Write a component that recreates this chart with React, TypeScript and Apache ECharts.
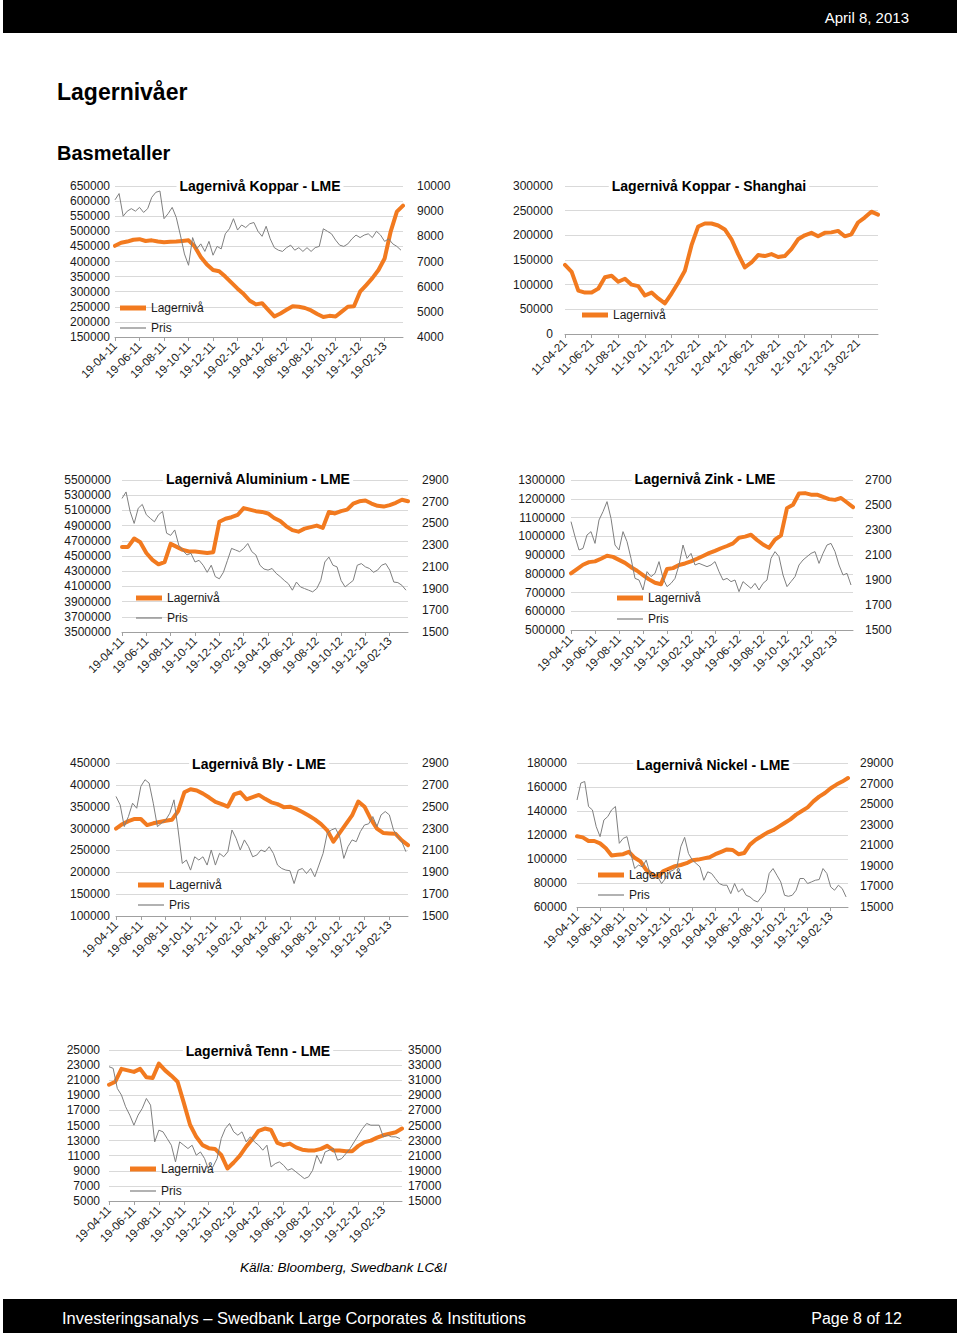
import React, { useEffect, useRef } from "react";
import * as echarts from "echarts";

const FONT = "'Liberation Sans', Arial, Helvetica, sans-serif";
const ORANGE = "#f27a1f";
const GREY = "#7f7f7f";
const TEXT = "#1a1a1a";

// x-axis tick labels
const lmeTicks = ["19-04-11", "19-06-11", "19-08-11", "19-10-11", "19-12-11", "19-02-12", "19-04-12", "19-06-12", "19-08-12", "19-10-12", "19-12-12", "19-02-13"];
const shTicks = ["11-04-21", "11-06-21", "11-08-21", "11-10-21", "11-12-21", "12-02-21", "12-04-21", "12-06-21", "12-08-21", "12-10-21", "12-12-21", "13-02-21"];

// sampling steps (months between points)
const LAGER_STEP = 0.5;
const PRIS_STEP = 1 / 3;
const X_MAX = 23.5;

// Koppar LME
const kopparLager = [452000, 462000, 466000, 472000, 474000, 468000, 470000, 466000, 464000, 465000, 466000, 468000, 470000, 450000, 415000, 390000, 372000, 368000, 350000, 330000, 310000, 292000, 270000, 258000, 262000, 240000, 218000, 228000, 240000, 252000, 250000, 246000, 238000, 226000, 216000, 220000, 218000, 234000, 250000, 252000, 300000, 322000, 345000, 372000, 410000, 500000, 565000, 585000];
const kopparPris = [9450, 9700, 8800, 9000, 9100, 9000, 9150, 8950, 9100, 9550, 9750, 9800, 8700, 8900, 9150, 8750, 8050, 7300, 6850, 7950, 7500, 7700, 7400, 7800, 7250, 7600, 7500, 8100, 8300, 8700, 8250, 8450, 8350, 8500, 8550, 8200, 8000, 8400, 7900, 7550, 7450, 7400, 7550, 7650, 7450, 7550, 7400, 7550, 7400, 7550, 7600, 8300, 8200, 8100, 7850, 7650, 7600, 7700, 7900, 8050, 7950, 8050, 8100, 7950, 8200, 8050, 7800, 7900, 7700, 7600, 7450];

// Koppar Shanghai
const shanghaiLager = [140000, 126000, 88000, 84000, 84000, 92000, 115000, 118000, 106000, 112000, 100000, 97000, 78000, 84000, 72000, 62000, 82000, 104000, 128000, 180000, 218000, 224000, 224000, 220000, 212000, 192000, 162000, 135000, 145000, 160000, 158000, 162000, 156000, 158000, 172000, 192000, 200000, 205000, 198000, 205000, 206000, 209000, 198000, 202000, 226000, 236000, 248000, 242000];

// Aluminium LME
const aluLager = [4620000, 4620000, 4730000, 4680000, 4540000, 4450000, 4390000, 4420000, 4660000, 4620000, 4580000, 4560000, 4560000, 4550000, 4540000, 4550000, 4950000, 4990000, 5010000, 5040000, 5130000, 5110000, 5090000, 5080000, 5060000, 5000000, 4960000, 4890000, 4840000, 4820000, 4860000, 4880000, 4900000, 4870000, 5080000, 5060000, 5090000, 5110000, 5190000, 5220000, 5230000, 5190000, 5160000, 5150000, 5170000, 5200000, 5240000, 5220000];
const aluPris = [2730, 2790, 2610, 2500, 2640, 2675, 2580, 2546, 2515, 2580, 2610, 2410, 2390, 2440, 2300, 2250, 2210, 2225, 2145, 2160, 2115, 2050, 2115, 2010, 1990, 2050, 2160, 2270, 2255, 2240, 2270, 2315, 2240, 2210, 2115, 2080, 2070, 2085, 2040, 2010, 1975, 1945, 1885, 1960, 1915, 1900, 1885, 1870, 1900, 1975, 2145, 2190, 2115, 2100, 1975, 1915, 1945, 1975, 2115, 2130, 2100, 2085, 2050, 2070, 2115, 2130, 2070, 1960, 1955, 1930, 1885];

// Zink LME
const zinkLager = [802000, 825000, 848000, 862000, 866000, 880000, 896000, 890000, 874000, 858000, 835000, 816000, 793000, 770000, 752000, 744000, 825000, 830000, 847000, 855000, 866000, 880000, 895000, 910000, 922000, 936000, 948000, 962000, 992000, 998000, 1008000, 980000, 956000, 938000, 982000, 1005000, 1150000, 1168000, 1228000, 1230000, 1222000, 1222000, 1210000, 1198000, 1194000, 1204000, 1180000, 1155000];
const zinkPris = [2367, 2247, 2140, 2153, 2260, 2287, 2193, 2380, 2447, 2527, 2393, 2180, 2140, 2287, 2207, 2073, 1913, 1900, 1820, 1967, 1927, 1953, 2047, 1913, 1847, 1873, 1913, 2020, 2180, 2073, 2113, 2020, 2033, 2020, 2007, 2020, 2047, 1967, 1900, 1913, 1887, 1900, 1807, 1887, 1860, 1833, 1873, 1820, 1873, 1900, 2073, 2127, 2087, 1940, 1847, 1887, 1927, 2020, 2060, 2087, 2113, 2127, 2033, 2113, 2180, 2193, 2127, 2020, 1940, 1953, 1860];

// Bly LME
const blyLager = [300000, 310000, 317000, 322000, 322000, 308000, 312000, 315000, 318000, 320000, 340000, 383000, 390000, 387000, 380000, 371000, 361000, 356000, 350000, 378000, 383000, 367000, 372000, 377000, 368000, 360000, 356000, 349000, 350000, 345000, 338000, 330000, 321000, 310000, 296000, 270000, 290000, 310000, 330000, 362000, 350000, 322000, 300000, 290000, 289000, 288000, 273000, 262000];
const blyPris = [2594, 2517, 2318, 2410, 2532, 2486, 2686, 2747, 2716, 2532, 2318, 2349, 2379, 2441, 2563, 2287, 1981, 2012, 1920, 2042, 2012, 2042, 1966, 2104, 1966, 2073, 2042, 2088, 2287, 2211, 2104, 2196, 2134, 2042, 2058, 2104, 2088, 2134, 2073, 1966, 1935, 1920, 1914, 1797, 1920, 1935, 1889, 1935, 1859, 1966, 2073, 2257, 2287, 2303, 2226, 2027, 2134, 2196, 2180, 2272, 2333, 2343, 2410, 2318, 2425, 2456, 2425, 2287, 2226, 2180, 2088];

// Nickel LME
const nickelLager = [119000, 118000, 115000, 115000, 113000, 109000, 103000, 103500, 104000, 106000, 101000, 98000, 91000, 87000, 85000, 90000, 92000, 94000, 95000, 96500, 99000, 99500, 100500, 101500, 104000, 106000, 108000, 107500, 104000, 105000, 112000, 116000, 119000, 122000, 124000, 127000, 130000, 133000, 137000, 140000, 143000, 148000, 152000, 155000, 159000, 162000, 164500, 167500];
const nickelPris = [25400, 27050, 27200, 24770, 24440, 22810, 21840, 23460, 23790, 24440, 24770, 21190, 21670, 21840, 20210, 18740, 19070, 18900, 19560, 18260, 17770, 17930, 17280, 17770, 18420, 18580, 18900, 20860, 21770, 20210, 19560, 19230, 18900, 17600, 18420, 18260, 17770, 17280, 17120, 17120, 16300, 17280, 16460, 16790, 16140, 15980, 15650, 15490, 15980, 16460, 18260, 18740, 18090, 17440, 16140, 16040, 16140, 16630, 17770, 17770, 17280, 17440, 17600, 17670, 18740, 18260, 16950, 16630, 17120, 16790, 15980];

// Tenn LME
const tennLager = [20400, 20800, 22500, 22300, 22100, 22500, 21400, 21300, 23200, 22300, 21600, 20800, 18000, 15100, 13500, 12400, 12000, 11900, 11100, 9300, 10100, 11000, 12200, 13200, 14300, 14600, 14400, 12700, 12400, 12600, 12100, 11800, 11700, 11700, 11900, 12300, 11700, 11700, 11600, 11600, 12300, 12800, 13000, 13400, 13700, 13900, 14100, 14600];
const tennPris = [32790, 32570, 29910, 29030, 27480, 26370, 25040, 26370, 27260, 28580, 27700, 22830, 24380, 24160, 23270, 22390, 20180, 22830, 22390, 21950, 22390, 21060, 21500, 20620, 19070, 19510, 20620, 23270, 24600, 25270, 24160, 23720, 24160, 22830, 23500, 22830, 22390, 21730, 22390, 19510, 19950, 20180, 19730, 19070, 19290, 18850, 18410, 17970, 18190, 19070, 21060, 19950, 21500, 21730, 21950, 20400, 20620, 21280, 21950, 22830, 23720, 24600, 25270, 25040, 25040, 25040, 23500, 23720, 23500, 23500, 23270];

type Axis = { min: number; max: number; interval: number };
type ChartDef = {
  title: string;
  ticks: string[];
  lager: number[];
  pris?: number[];
  grid: { left: number; top: number; width: number; height: number };
  yL: Axis;
  yR?: Axis;
  mL: number;
  mR: number;
  titlePos: [number, number];
  legendPos: number[];
};

const charts: ChartDef[] = [
  {
    title: "Lagernivå Koppar - LME", ticks: lmeTicks, lager: kopparLager, pris: kopparPris,
    grid: { left: 115, top: 186, width: 288, height: 151 },
    yL: { min: 150000, max: 650000, interval: 50000 }, yR: { min: 4000, max: 10000, interval: 1000 },
    mL: 5, mR: 14, titlePos: [257, 187], legendPos: [120, 309, 329],
  },
  {
    title: "Lagernivå Koppar - Shanghai", ticks: shTicks, lager: shanghaiLager,
    grid: { left: 565, top: 186, width: 313, height: 148 },
    yL: { min: 0, max: 300000, interval: 50000 },
    mL: 12, mR: 10, titlePos: [706, 187], legendPos: [582, 316],
  },
  {
    title: "Lagernivå Aluminium - LME", ticks: lmeTicks, lager: aluLager, pris: aluPris,
    grid: { left: 122, top: 480, width: 286, height: 152 },
    yL: { min: 3500000, max: 5500000, interval: 200000 }, yR: { min: 1500, max: 2900, interval: 200 },
    mL: 11, mR: 14, titlePos: [255, 480], legendPos: [136, 599, 619],
  },
  {
    title: "Lagernivå Zink - LME", ticks: lmeTicks, lager: zinkLager, pris: zinkPris,
    grid: { left: 571, top: 480, width: 282, height: 150 },
    yL: { min: 500000, max: 1300000, interval: 100000 }, yR: { min: 1500, max: 2700, interval: 200 },
    mL: 6, mR: 12, titlePos: [702, 480], legendPos: [617, 599, 620],
  },
  {
    title: "Lagernivå Bly - LME", ticks: lmeTicks, lager: blyLager, pris: blyPris,
    grid: { left: 116, top: 763, width: 292, height: 153 },
    yL: { min: 100000, max: 450000, interval: 50000 }, yR: { min: 1500, max: 2900, interval: 200 },
    mL: 6, mR: 14, titlePos: [256, 765], legendPos: [138, 886, 906],
  },
  {
    title: "Lagernivå Nickel - LME", ticks: lmeTicks, lager: nickelLager, pris: nickelPris,
    grid: { left: 577, top: 763, width: 271, height: 144 },
    yL: { min: 60000, max: 180000, interval: 20000 }, yR: { min: 15000, max: 29000, interval: 2000 },
    mL: 10, mR: 12, titlePos: [710, 766], legendPos: [598, 876, 896],
  },
  {
    title: "Lagernivå Tenn - LME", ticks: lmeTicks, lager: tennLager, pris: tennPris,
    grid: { left: 109, top: 1050, width: 293, height: 151 },
    yL: { min: 5000, max: 25000, interval: 2000 }, yR: { min: 15000, max: 35000, interval: 2000 },
    mL: 9, mR: 6, titlePos: [255, 1052], legendPos: [130, 1170, 1192],
  },
];

const plain = (v: number) => String(Math.round(v));

function buildOption() {
  const grid: any[] = [];
  const xAxis: any[] = [];
  const yAxis: any[] = [];
  const series: any[] = [];
  const title: any[] = [];
  const legend: any[] = [];

  charts.forEach((c, gi) => {
    grid.push({ ...c.grid, containLabel: false });
    const ticks = c.ticks;
    xAxis.push({
      type: "value", gridIndex: gi, min: 0, max: X_MAX, interval: 2,
      axisLine: { show: true, lineStyle: { color: "#a0a0a0", width: 1 } },
      axisTick: { show: true, length: 4, lineStyle: { color: "#a0a0a0" } },
      splitLine: { show: false },
      axisLabel: {
        rotate: 45, fontSize: 11.5, color: TEXT, fontFamily: FONT, margin: 7,
        showMaxLabel: false,
        formatter: (v: number) => {
          const k = Math.round(v / 2);
          return Math.abs(v / 2 - k) < 1e-6 && ticks[k] ? ticks[k] : "";
        },
      },
    });
    const yLIndex = yAxis.length;
    yAxis.push({
      type: "value", gridIndex: gi, position: "left", ...c.yL,
      axisLine: { show: false }, axisTick: { show: false },
      splitLine: { show: true, lineStyle: { color: "#d9d9d9", width: 1 } },
      axisLabel: { fontSize: 12, color: TEXT, fontFamily: FONT, margin: c.mL, formatter: plain },
    });
    let yRIndex = -1;
    if (c.yR) {
      yRIndex = yAxis.length;
      yAxis.push({
        type: "value", gridIndex: gi, position: "right", ...c.yR,
        axisLine: { show: false }, axisTick: { show: false },
        splitLine: { show: false },
        axisLabel: { fontSize: 12, color: TEXT, fontFamily: FONT, margin: c.mR, formatter: plain },
      });
    }
    series.push({
      name: "Lagernivå", type: "line", xAxisIndex: gi, yAxisIndex: yLIndex,
      showSymbol: false, symbol: "none",
      lineStyle: { color: ORANGE, width: 4, join: "round", cap: "round" },
      itemStyle: { color: ORANGE },
      data: c.lager.map((v, i) => [i * LAGER_STEP, v]),
      z: 3,
    });
    if (c.pris && yRIndex >= 0) {
      series.push({
        name: "Pris", type: "line", xAxisIndex: gi, yAxisIndex: yRIndex,
        showSymbol: false, symbol: "none",
        lineStyle: { color: GREY, width: 1 },
        itemStyle: { color: GREY },
        data: c.pris.map((v, i) => [i * PRIS_STEP, v]),
        z: 4,
      });
    }
    title.push({
      text: c.title, left: c.titlePos[0], top: c.titlePos[1] - 9, textAlign: "center",
      backgroundColor: "#ffffff", padding: [1, 3],
      textStyle: { fontSize: 14, fontWeight: "bold", color: "#000", fontFamily: FONT },
    });
    legend.push({
      left: c.legendPos[0], top: c.legendPos[1] - 7, padding: 0, selectedMode: false,
      itemWidth: 26, itemHeight: 5, icon: "rect", data: ["Lagernivå"],
      textStyle: { fontSize: 12, color: TEXT, fontFamily: FONT },
    });
    if (c.pris) {
      legend.push({
        left: c.legendPos[0], top: c.legendPos[2] - 7, padding: 0, selectedMode: false,
        itemWidth: 26, itemHeight: 1.2, icon: "rect", data: ["Pris"],
        textStyle: { fontSize: 12, color: TEXT, fontFamily: FONT },
      });
    }
  });

  const txt = (text: string, x: number, y: number, size: number, extra: any = {}) => ({
    type: "text", x, y, silent: true,
    style: {
      text, fontSize: size, fontFamily: FONT, fill: extra.fill || "#000",
      fontWeight: extra.fontWeight || "normal", fontStyle: extra.fontStyle || "normal",
      align: extra.align || "left", textAlign: extra.align || "left",
      verticalAlign: "middle", textVerticalAlign: "middle",
    },
  });

  const graphic: any[] = [
    { type: "rect", shape: { x: 3, y: 0, width: 954, height: 33 }, style: { fill: "#000" }, silent: true },
    { type: "rect", shape: { x: 3, y: 1299, width: 954, height: 34 }, style: { fill: "#000" }, silent: true },
    txt("April 8, 2013", 909, 17, 15, { fill: "#fff", align: "right" }),
    txt("Lagernivåer", 57, 92, 23, { fontWeight: "bold" }),
    txt("Basmetaller", 57, 153, 20, { fontWeight: "bold" }),
    txt("Källa: Bloomberg, Swedbank LC&I", 240, 1267, 13.5, { fontStyle: "italic" }),
    txt("Investeringsanalys – Swedbank Large Corporates & Institutions", 62, 1318, 16.5, { fill: "#fff" }),
    txt("Page 8 of 12", 902, 1318, 16, { fill: "#fff", align: "right" }),
  ];

  return {
    animation: false,
    backgroundColor: "#ffffff",
    textStyle: { fontFamily: FONT },
    grid, xAxis, yAxis, series, title, legend, graphic,
  };
}

export default function App() {
  const ref = useRef<HTMLDivElement>(null);
  useEffect(() => {
    if (!ref.current) return;
    const chart = echarts.init(ref.current, undefined, { renderer: "svg", width: 960, height: 1335 });
    chart.setOption(buildOption() as any);
    return () => chart.dispose();
  }, []);
  return (
    <div
      ref={ref}
      style={{ position: "absolute", left: 0, top: 0, width: 960, height: 1335, background: "#fff" }}
    />
  );
}
